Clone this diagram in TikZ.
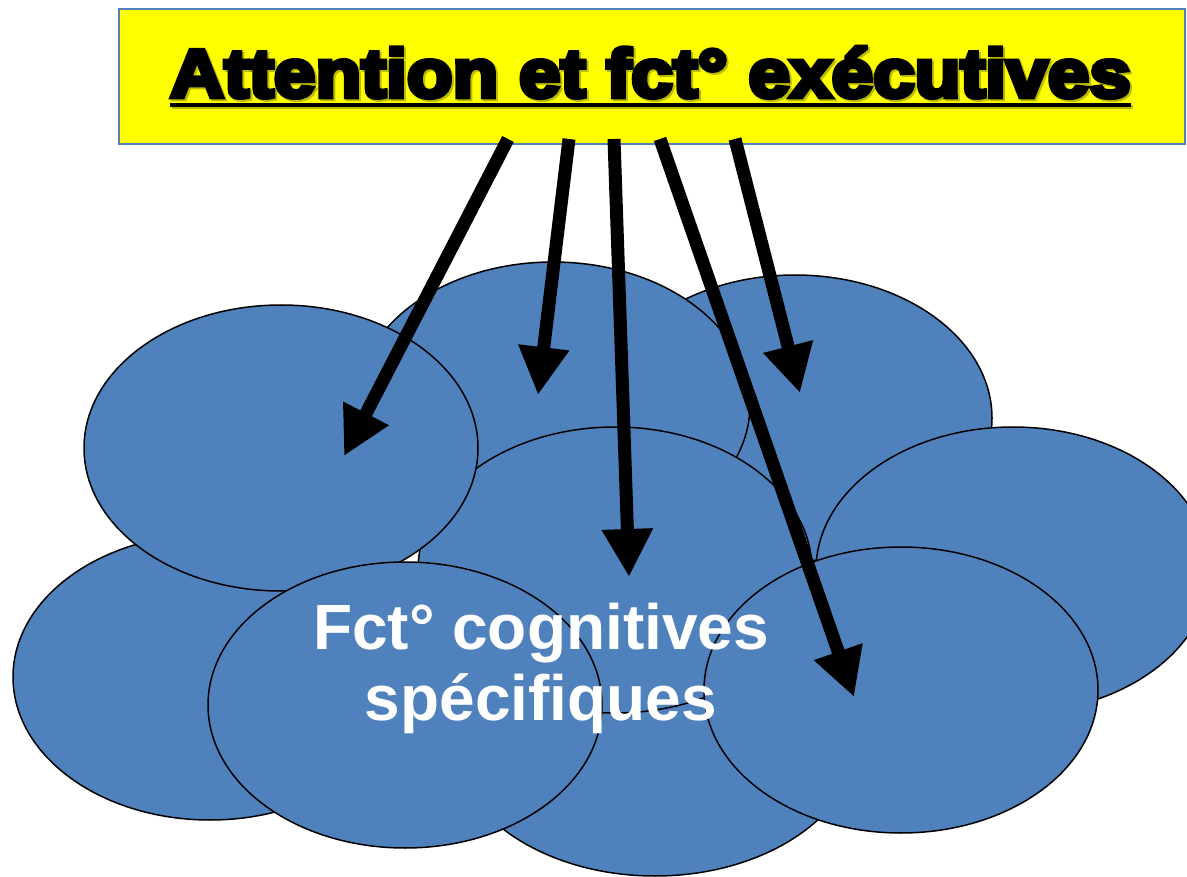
\documentclass[tikz,border=0pt]{standalone}
\usepackage{fontspec}
\setmainfont{Liberation Sans}
\newfontfamily\ttlfont{Liberation Sans Bold}[FakeBold=7,FakeStretch=1.1]
\usetikzlibrary{shapes.geometric,arrows.meta}
\definecolor{blobblue}{HTML}{4F81BD}
\definecolor{boxedge}{HTML}{4F81BD}
\definecolor{boxfill}{HTML}{FFFF00}
\definecolor{shadowol}{RGB}{110,110,0}
\begin{document}
\begin{tikzpicture}[x=1pt,y=-1pt,
  blob/.style={ellipse, draw=black, line width=1.5pt, fill=blobblue,
    minimum width=394pt, minimum height=286pt, inner sep=0pt},
  bigarrow/.style={line width=13pt, black, -{Triangle[width=48pt,length=48pt]}},
  ttlbox/.style={draw=boxedge, fill=boxfill, line width=2pt, inner sep=0pt,
    minimum width=1066pt, minimum height=135pt, anchor=north west},
  ttltext/.style={anchor=base, inner sep=0pt, font=\ttlfont\fontsize{68}{68}\selectfont},
  lbltext/.style={anchor=base, inner sep=0pt, text=white, font=\bfseries\fontsize{64}{71}\selectfont}]
\useasboundingbox (0,0) rectangle (1187,877);
\clip (0,0) rectangle (1187,877);
\fill[white] (0,0) rectangle (1187,877);
% ellipses, back to front
\node[blob] (ebl) at (210,677) {};
\node[blob] (etr) at (795,418) {};
\node[blob] (er) at (1013,570) {};
\node[blob, minimum width=410pt] (emb) at (655,733) {};
\node[blob] (etm) at (553,405) {};
\node[blob] (em) at (615,570) {};
\node[blob] (etl) at (281,448) {};
\node[blob] (ebm) at (405,705) {};
\node[blob] (ebr) at (901,690) {};
% title box
\node[ttlbox] (box) at (118,8) {};
\node[ttltext, text=shadowol, opacity=0.45] (ttlsh) at (652.5,99) {Attention et fct° exécutives};
\node[ttltext, text=black] (ttl) at (650.5,97) {Attention et fct° exécutives};
\draw[line width=4pt, shadowol, opacity=0.45] ([xshift=2pt,yshift=-10pt]ttl.base west) -- ([xshift=2pt,yshift=-10pt]ttl.base east);
\draw[line width=4pt, black] ([yshift=-8pt]ttl.base west) -- ([yshift=-8pt]ttl.base east);
% arrows
\coordinate (s1) at (508,139);
\coordinate (s2) at (569,139);
\coordinate (s3) at (614,139);
\coordinate (s4) at (660,139);
\coordinate (s5) at (735,139);
\coordinate (t1) at (344,456);
\coordinate (t2) at (538,395);
\coordinate (t3) at (629,577);
\coordinate (t4) at (854,697);
\coordinate (t5) at (800,393);
\draw[bigarrow] (s1) -- (t1);
\draw[bigarrow] (s2) -- (t2);
\draw[bigarrow] (s3) -- (t3);
\draw[bigarrow] (s4) -- (t4);
\draw[bigarrow] (s5) -- (t5);
% label
\node[lbltext] (lbl1) at (541,649) {Fct° cognitives};
\node[lbltext] (lbl2) at (541,720) {spécifiques};
\end{tikzpicture}
\end{document}
